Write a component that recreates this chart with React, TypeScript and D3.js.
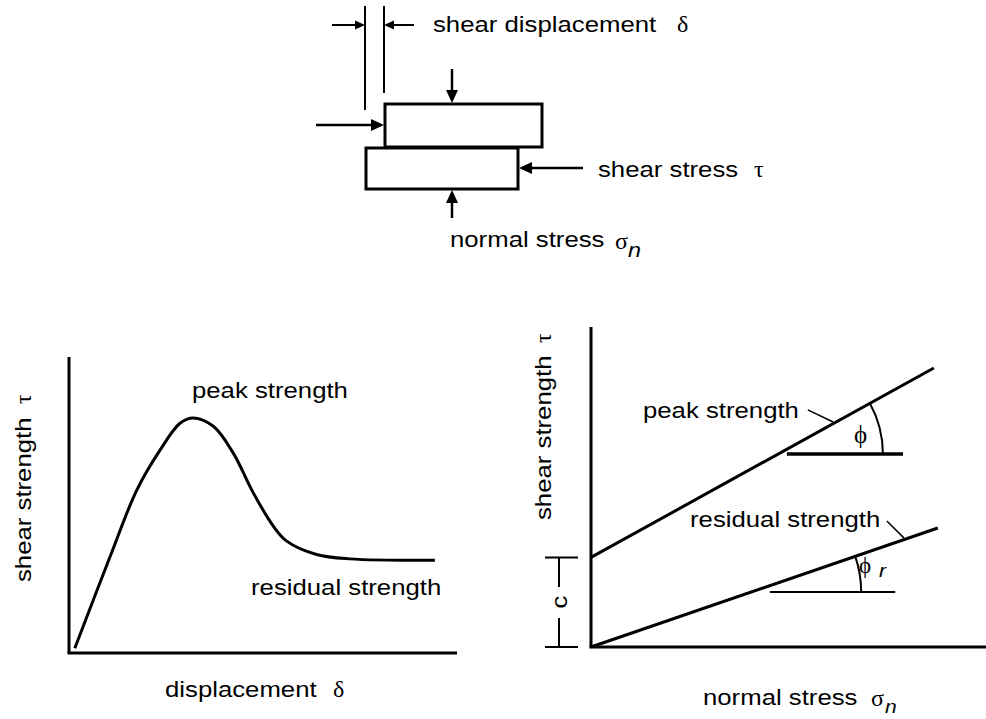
import React from 'react'
import * as d3 from 'd3'

// left chart: shear stress vs displacement (arbitrary units, 0..10)
const curveX = [0.15, 1.06, 1.75, 2.35, 2.86, 3.19, 3.72, 4.23, 4.75, 5.27, 5.61, 6.38, 7.24, 9.43]
const curveY = [0.16, 3.26, 5.51, 6.86, 7.76, 7.94, 7.66, 6.76, 5.41, 4.28, 3.78, 3.33, 3.18, 3.13]

// right chart: Mohr-Coulomb envelopes (normal stress, shear strength)
const peakLine = [[0, 2.8], [8.68, 8.72]]
const residualLine = [[0, 0], [8.78, 3.72]]
const cohesion = 2.8
// angle markers: [x start, x end, y, arc end x]
const peakAngle = [4.96, 7.9, 6.03, 7.39]
const residualAngle = [4.53, 7.7, 1.72, 6.84]
// leader lines from labels to envelopes
const peakLeader = [[5.49, 7.41], [6.13, 7.03]]
const residualLeader = [[7.49, 3.94], [7.92, 3.41]]

const SANS = '"Liberation Sans", Arial, sans-serif'
const SERIF = '"Liberation Serif", "DejaVu Serif", serif'
const SX = 1.17

function Label({ x, y, size = 22, rotate = 0, anchor = 'start', italic = false, children }) {
	return (
		<text
			transform={`translate(${x},${y}) rotate(${rotate}) scale(${SX},1)`}
			fontFamily={SANS}
			fontSize={size}
			fontStyle={italic ? 'italic' : 'normal'}
			textAnchor={anchor}
			fill="#000"
		>
			{children}
		</text>
	)
}

function Greek({ x, y, size = 24, rotate = 0, children }) {
	return (
		<text
			transform={`translate(${x},${y}) rotate(${rotate})`}
			fontFamily={SERIF}
			fontSize={size}
			fill="#000"
		>
			{children}
		</text>
	)
}

function Arrow({ x1, y1, x2, y2, head = 11, w = 10, sw = 2.5 }) {
	const a = Math.atan2(y2 - y1, x2 - x1)
	const bx = x2 - head * Math.cos(a)
	const by = y2 - head * Math.sin(a)
	const px = (w / 2) * Math.sin(a)
	const py = (w / 2) * Math.cos(a)
	return (
		<g>
			<line x1={x1} y1={y1} x2={bx} y2={by} stroke="#000" strokeWidth={sw} />
			<polygon points={`${x2},${y2} ${bx + px},${by - py} ${bx - px},${by + py}`} fill="#000" />
		</g>
	)
}

function ShearBox() {
	// schematic of the direct shear test, drawn in page pixels
	return (
		<g>
			<line x1={365} y1={6} x2={365} y2={110} stroke="#000" strokeWidth={2} />
			<line x1={384} y1={6} x2={384} y2={93} stroke="#000" strokeWidth={2} />
			<Arrow x1={332} y1={25} x2={365} y2={25} head={10} w={9} sw={2} />
			<Arrow x1={414} y1={25} x2={384} y2={25} head={10} w={9} sw={2} />
			<rect x={385} y={104} width={157} height={43} fill="none" stroke="#000" strokeWidth={3} />
			<rect x={366} y={148} width={152} height={41} fill="none" stroke="#000" strokeWidth={3} />
			<Arrow x1={452} y1={69} x2={452} y2={103} head={13} w={12} />
			<Arrow x1={316} y1={125} x2={384} y2={125} head={13} w={12} />
			<Arrow x1={583} y1={168} x2={519} y2={168} head={13} w={12} />
			<Arrow x1={452} y1={218} x2={452} y2={190} head={13} w={12} />
			<Label x={433} y={32}>shear displacement</Label>
			<Greek x={677} y={32}>δ</Greek>
			<Label x={598} y={177}>shear stress</Label>
			<Greek x={754} y={177}>τ</Greek>
			<Label x={450} y={247}>normal stress</Label>
			<Greek x={615} y={249}>σ</Greek>
			<Label x={628} y={257} size={20} italic>n</Label>
		</g>
	)
}

function LeftChart() {
	const x = d3.scaleLinear().domain([0, 10]).range([69, 457])
	const y = d3.scaleLinear().domain([0, 10]).range([653, 357])
	const pts = curveX.map((v, i) => [v, curveY[i]])
	const line = d3.line().curve(d3.curveCatmullRom.alpha(0.5))
		.x(d => x(d[0]))
		.y(d => y(d[1]))
	return (
		<g>
			<path d={line(pts)} fill="none" stroke="#000" strokeWidth={3} />
			<line x1={x(0)} y1={y(10)} x2={x(0)} y2={y(0)} stroke="#000" strokeWidth={3} />
			<line x1={x(0) - 1.5} y1={y(0)} x2={x(10)} y2={y(0)} stroke="#000" strokeWidth={3} />
			<Label x={192} y={398}>peak strength</Label>
			<Label x={251} y={595}>residual strength</Label>
			<Label x={165} y={697}>displacement</Label>
			<Greek x={333} y={697}>δ</Greek>
			<Label x={31} y={582} rotate={-90}>shear strength</Label>
			<Greek x={31} y={404} rotate={-90}>τ</Greek>
		</g>
	)
}

function AngleMark({ x, y, env, mark, sw }) {
	const [x0, x1, yv, xa] = mark
	const [[ax, ay], [bx, by]] = env
	// pixel intersection of envelope with the horizontal reference
	const slope = (y(by) - y(ay)) / (x(bx) - x(ax))
	const cy = y(yv)
	const cx = x(ax) + (cy - y(ay)) / slope
	const r = x(xa) - cx
	const ang = Math.atan(-slope)
	const arc = `M${cx + r},${cy} A${r},${r} 0 0 0 ${cx + r * Math.cos(ang)},${cy - r * Math.sin(ang)}`
	return (
		<g>
			<line x1={x(x0)} y1={cy} x2={x(x1)} y2={cy} stroke="#000" strokeWidth={sw} />
			<path d={arc} fill="none" stroke="#000" strokeWidth={2} />
		</g>
	)
}

function RightChart() {
	const x = d3.scaleLinear().domain([0, 10]).range([591, 986])
	const y = d3.scaleLinear().domain([0, 10]).range([647, 327])
	const line = d3.line().x(d => x(d[0])).y(d => y(d[1]))
	return (
		<g>
			<path d={line(peakLine)} fill="none" stroke="#000" strokeWidth={3} />
			<path d={line(residualLine)} fill="none" stroke="#000" strokeWidth={3} />
			<line x1={x(0)} y1={y(10)} x2={x(0)} y2={y(0)} stroke="#000" strokeWidth={3} />
			<line x1={x(0) - 1.5} y1={y(0)} x2={x(10)} y2={y(0)} stroke="#000" strokeWidth={3} />
			<AngleMark x={x} y={y} env={peakLine} mark={peakAngle} sw={3.5} />
			<AngleMark x={x} y={y} env={residualLine} mark={residualAngle} sw={2} />
			<path d={line(peakLeader)} stroke="#000" strokeWidth={1.5} />
			<path d={line(residualLeader)} stroke="#000" strokeWidth={1.5} />
			{/* cohesion bracket */}
			<line x1={545} y1={y(cohesion)} x2={578} y2={y(cohesion)} stroke="#000" strokeWidth={2} />
			<line x1={545} y1={y(0)} x2={578} y2={y(0)} stroke="#000" strokeWidth={2} />
			<line x1={559} y1={y(cohesion)} x2={559} y2={587} stroke="#000" strokeWidth={2} />
			<line x1={559} y1={618} x2={559} y2={y(0)} stroke="#000" strokeWidth={2} />
			<Label x={567} y={602} rotate={-90} anchor="middle">c</Label>
			<Label x={643} y={418}>peak strength</Label>
			<Label x={690} y={527}>residual strength</Label>
			<Greek x={854} y={443} size={25}>ϕ</Greek>
			<Greek x={859} y={573} size={23}>ϕ</Greek>
			<Label x={879} y={577} size={18} italic>r</Label>
			<Label x={703} y={705}>normal stress</Label>
			<Greek x={871} y={706}>σ</Greek>
			<Label x={885} y={713} size={18} italic>n</Label>
			<Label x={551} y={520} rotate={-90}>shear strength</Label>
			<Greek x={551} y={343} rotate={-90}>τ</Greek>
		</g>
	)
}

export default function App() {
	return (
		<svg width={986} height={719} style={{ position: 'absolute', left: 0, top: 0, background: '#fff' }}>
			<ShearBox />
			<LeftChart />
			<RightChart />
		</svg>
	)
}
